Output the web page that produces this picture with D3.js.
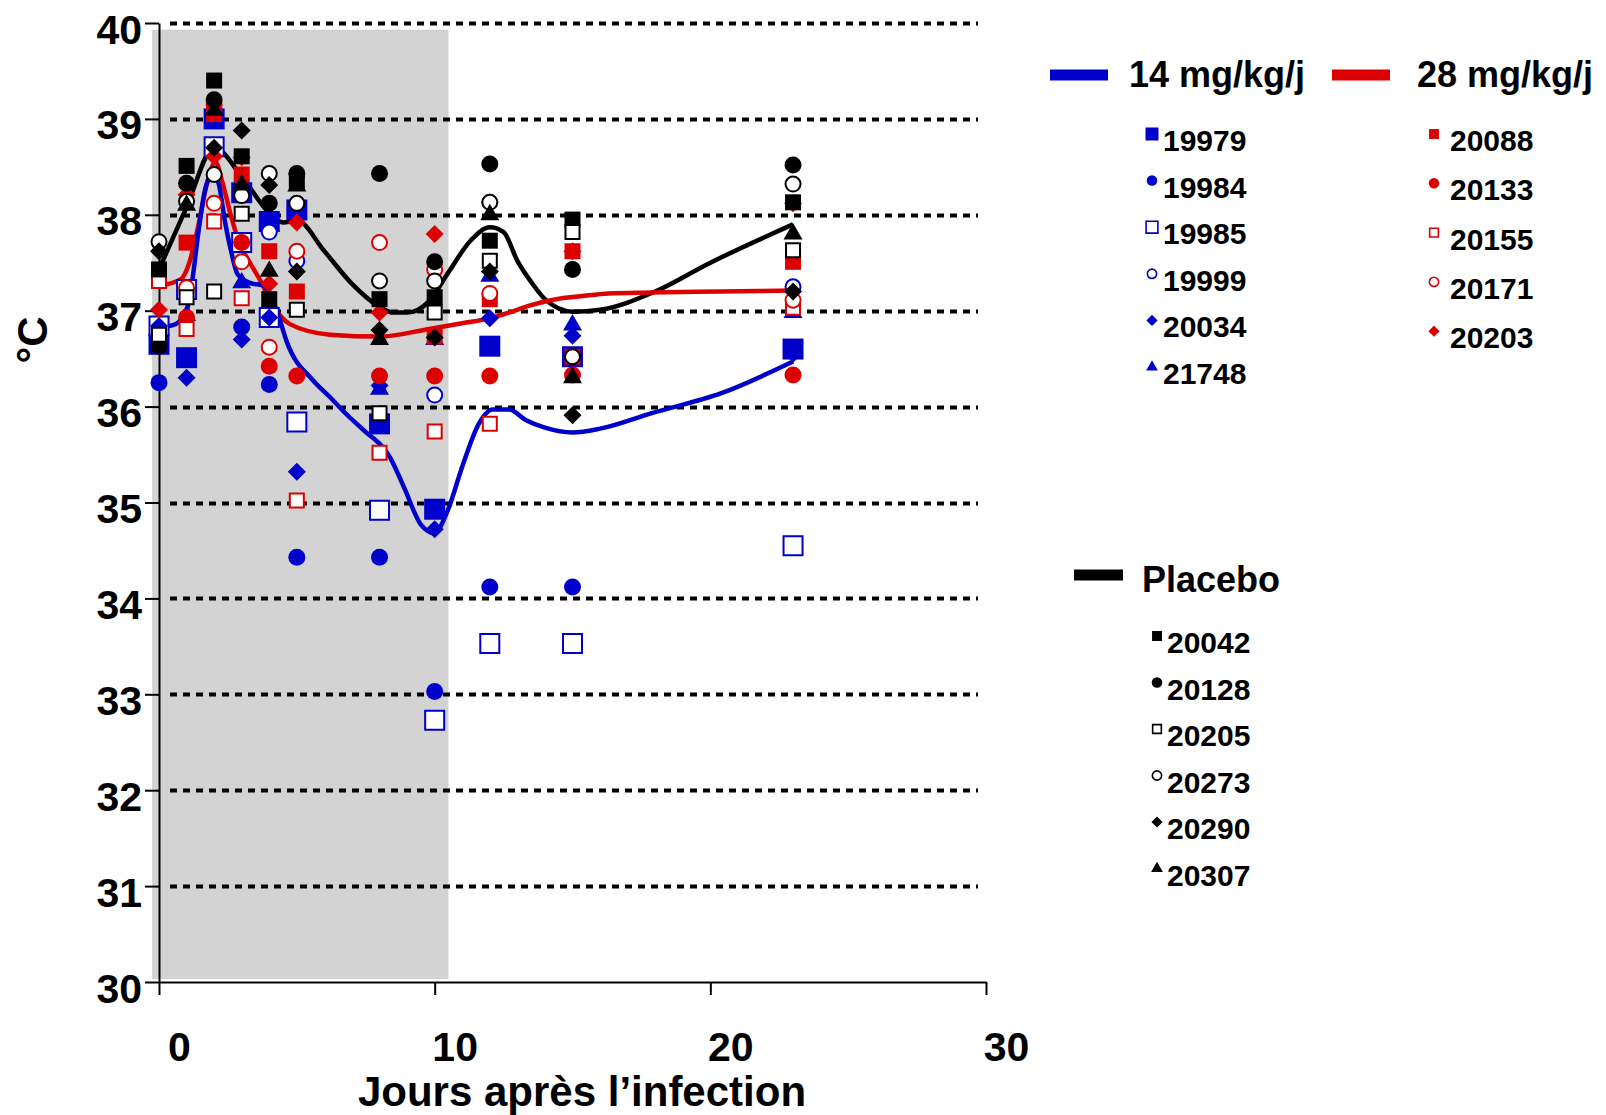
<!DOCTYPE html>
<html>
<head>
<meta charset="utf-8">
<script src="https://cdn.jsdelivr.net/npm/d3@7"></script>
<style>
  body { margin: 0; background: #fff; }
  text { font-family: "Liberation Sans", Arial, sans-serif; font-weight: bold; fill: #000; }
</style>
</head>
<body>
<svg id="chart" width="1606" height="1115"></svg>
<script>
// days of measurement
const days = [0, 1, 2, 3, 4, 5, 8, 10, 12, 15, 23];

// 14 mg/kg/j (null = hidden / not readable)
const m19979 = [36.65, 36.51, 39.0, 38.23, 37.93, 38.05, 35.82, 34.93, 36.63, 36.52, 36.6];
const m19984 = [36.25, null, null, 36.83, 36.23, 34.43, 34.43, 33.03, 34.12, 34.12, null];
const m19985 = [36.84, 37.22, 38.71, 37.71, 36.93, 35.84, 34.92, 32.73, 33.53, 33.53, 34.55];
const m19999 = [null, null, null, null, 37.82, 37.52, null, 36.12, null, null, 37.25];
const m20034 = [36.84, 36.3, null, 36.7, 36.93, 35.32, 36.22, 34.72, 36.92, 36.74, 36.55];
const m21748 = [null, 36.95, null, 37.29, null, null, 36.18, 36.7, 37.36, 36.85, 36.98];

// 28 mg/kg/j
const m20088 = [null, 37.71, 39.05, 38.42, 37.62, 37.2, null, 36.73, 37.12, 37.62, 37.51];
const m20133 = [null, 36.93, 39.15, 37.71, 36.42, 36.32, 36.32, 36.32, 36.32, 36.33, 36.33];
const m20155 = [37.31, 36.81, 37.93, 37.13, null, 35.02, 35.52, 35.74, 35.82, 36.52, 37.03];
const m20171 = [null, 37.24, 38.12, 37.51, 36.62, 37.62, 37.71, 37.43, 37.18, null, 37.11];
const m20203 = [37.01, 38.21, 38.61, 38.6, 37.28, 37.92, 36.98, 37.8, 38.13, 37.62, 38.12];

// Placebo
const m20042 = [37.43, 38.51, 39.4, 38.61, 37.12, 38.35, 37.12, 37.14, 37.73, 37.95, 38.13];
const m20128 = [36.63, 38.33, 39.2, null, 38.12, 38.43, 38.43, 37.51, 38.53, 37.43, 38.52];
const m20205 = [36.75, 37.14, 37.2, 38.01, null, 37.01, 35.93, 36.98, 37.52, 37.82, 37.63];
const m20273 = [37.72, 38.14, 38.42, 38.2, 38.43, 38.12, 37.31, 37.31, 38.13, 36.52, 38.32];
const m20290 = [37.62, null, 38.7, 38.88, 38.31, 37.41, 36.8, 36.72, 37.41, 35.91, 37.2];
const m20307 = [null, 38.1, 39.09, 38.31, 37.41, 38.3, 36.7, null, 38.0, 36.3, 37.8];

// smoothed group curves
const curve14Days = [0, 0.5, 0.95, 1.2, 1.43, 1.68, 1.95, 2.15, 2.4, 2.6, 2.85, 3.3, 3.8, 4.33, 4.63, 5.6, 6.2, 6.8, 7.4, 8.4, 8.9, 9.5, 10, 10.45, 11.03, 11.6, 12.1, 12.7, 13.3, 14, 15, 16, 17.85, 20.4, 23];
const curve14Vals = [36.83, 36.85, 36.95, 37.3, 37.82, 38.27, 38.42, 38.34, 37.92, 37.64, 37.38, 37.29, 37.26, 36.95, 36.68, 36.27, 36.1, 35.92, 35.76, 35.46, 35.15, 34.77, 34.68, 34.9, 35.4, 35.82, 35.97, 35.97, 35.86, 35.78, 35.73, 35.77, 35.93, 36.14, 36.47];
const curve28Days = [0, 0.8, 1.1, 1.45, 1.75, 2.05, 2.3, 2.6, 2.95, 3.3, 3.7, 4.1, 4.75, 6.2, 8, 9.8, 11, 12, 12.7, 13.4, 14.4, 15.3, 16.3, 17.8, 20.4, 23];
const curve28Vals = [37.26, 37.33, 37.5, 37.92, 38.34, 38.55, 38.34, 38.0, 37.68, 37.5, 37.3, 37.07, 36.86, 36.75, 36.73, 36.81, 36.87, 36.92, 36.98, 37.05, 37.12, 37.15, 37.18, 37.19, 37.2, 37.21];
const curvePlaDays = [0, 1, 2, 3, 4, 4.5, 5, 6, 7, 8, 8.5, 9, 9.8, 10.5, 11.3, 12, 12.5, 13, 13.5, 14, 15, 16, 18, 20, 23];
const curvePlaVals = [37.43, 38.08, 38.7, 38.4, 38.02, 37.92, 37.94, 37.62, 37.28, 37.04, 36.98, 36.98, 37.1, 37.4, 37.73, 37.87, 37.82, 37.52, 37.3, 37.12, 36.99, 37.01, 37.2, 37.5, 37.9];

// treatment period shading
const shadeDays = [-0.25, 10.5];
const shadeTemps = [30.03, 39.93];

const xTicks = [0, 10, 20, 30];
const yTicks = [30, 31, 32, 33, 34, 35, 36, 37, 38, 39, 40];
const gridTemps = [31, 32, 33, 34, 35, 36, 37, 38, 39, 40];

const BLUE = "#0000cc", RED = "#dd0000", BLACK = "#000000";

const series = [
  { id: "19979", values: m19979, color: BLUE, shape: "square", open: false, size: 21 },
  { id: "19984", values: m19984, color: BLUE, shape: "circle", open: false, size: 17 },
  { id: "19985", values: m19985, color: BLUE, shape: "square", open: true, size: 19 },
  { id: "19999", values: m19999, color: BLUE, shape: "circle", open: true, size: 15 },
  { id: "20034", values: m20034, color: BLUE, shape: "diamond", open: false, size: 18 },
  { id: "21748", values: m21748, color: BLUE, shape: "triangle", open: false, size: 19 },
  { id: "20088", values: m20088, color: RED, shape: "square", open: false, size: 16 },
  { id: "20133", values: m20133, color: RED, shape: "circle", open: false, size: 17 },
  { id: "20155", values: m20155, color: RED, shape: "square", open: true, size: 14 },
  { id: "20171", values: m20171, color: RED, shape: "circle", open: true, size: 15 },
  { id: "20203", values: m20203, color: RED, shape: "diamond", open: false, size: 18 },
  { id: "20042", values: m20042, color: BLACK, shape: "square", open: false, size: 16 },
  { id: "20128", values: m20128, color: BLACK, shape: "circle", open: false, size: 17 },
  { id: "20205", values: m20205, color: BLACK, shape: "square", open: true, size: 14 },
  { id: "20273", values: m20273, color: BLACK, shape: "circle", open: true, size: 15 },
  { id: "20290", values: m20290, color: BLACK, shape: "diamond", open: false, size: 18 },
  { id: "20307", values: m20307, color: BLACK, shape: "triangle", open: false, size: 19 }
];

const svg = d3.select("#chart");

const x = d3.scaleLinear().domain([0, 30]).range([159, 986]);
const y = d3.scaleLinear().domain([30, 40]).range([982, 23]);

function symbolPath(shape, size) {
  if (shape === "square") return d3.symbol(d3.symbolSquare, size * size)();
  if (shape === "circle") return d3.symbol(d3.symbolCircle, Math.PI * size * size / 4)();
  if (shape === "diamond") return d3.symbol(d3.symbolSquare, size * size / 2)();
  return d3.symbol(d3.symbolTriangle, Math.sqrt(3) / 4 * size * size)();
}

function drawMarker(g, s, cx, cy, scale) {
  const sz = s.size * scale;
  g.append("path")
    .attr("d", symbolPath(s.shape, sz))
    .attr("transform", `translate(${cx},${cy})` + (s.shape === "diamond" ? " rotate(45)" : ""))
    .attr("fill", s.open ? "#fff" : s.color)
    .attr("stroke", s.open ? s.color : "none")
    .attr("stroke-width", s.open ? 2 * Math.max(scale, 0.8) : 0);
}

// grey box = treatment period
svg.append("rect")
  .attr("x", x(shadeDays[0]))
  .attr("y", y(shadeTemps[1]))
  .attr("width", x(shadeDays[1]) - x(shadeDays[0]))
  .attr("height", y(shadeTemps[0]) - y(shadeTemps[1]))
  .attr("fill", "#d3d3d3");

// dotted gridlines
svg.append("g")
  .selectAll("line")
  .data(gridTemps)
  .enter().append("line")
  .attr("x1", x(0) + 11).attr("x2", 978)
  .attr("y1", d => Math.round(y(d)) + 0.5).attr("y2", d => Math.round(y(d)) + 0.5)
  .attr("stroke", "#000")
  .attr("stroke-width", 4)
  .attr("stroke-dasharray", "7,6");

// axes
const xAxis = svg.append("g")
  .attr("transform", `translate(0,${y(30)})`)
  .call(d3.axisBottom(x).tickValues(xTicks).tickSize(13).tickSizeOuter(0));
xAxis.selectAll("text")
  .attr("y", 79).attr("dy", 0).attr("dx", 20)
  .style("font-size", "41px");

const yAxis = svg.append("g")
  .attr("transform", `translate(${x(0)},0)`)
  .call(d3.axisLeft(y).tickValues(yTicks).tickSize(14).tickPadding(3).tickSizeOuter(0));
yAxis.selectAll("text")
  .attr("dy", "0.49em")
  .style("font-size", "41px");

svg.selectAll(".domain, .tick line").attr("stroke", "#000").attr("stroke-width", 2);
svg.selectAll(".tick text").attr("font-family", null).attr("fill", "#000");

// group curves
const line = d3.line()
  .x(d => x(d[0]))
  .y(d => y(d[1]))
  .curve(d3.curveMonotoneX);

const curves = [
  { days: curvePlaDays, vals: curvePlaVals, color: BLACK },
  { days: curve28Days, vals: curve28Vals, color: RED },
  { days: curve14Days, vals: curve14Vals, color: BLUE }
];
curves.forEach(c => {
  svg.append("path")
    .datum(c.days.map((d, i) => [d, c.vals[i]]))
    .attr("d", line)
    .attr("fill", "none")
    .attr("stroke", c.color)
    .attr("stroke-width", 4.5)
    .attr("stroke-linejoin", "round");
});

// individual animals
const pts = svg.append("g").attr("class", "points");
series.forEach(s => {
  const g = pts.append("g");
  s.values.forEach((v, i) => {
    if (v === null) return;
    drawMarker(g, s, x(days[i]), y(v), 1);
  });
});

// axis titles
svg.append("text")
  .attr("x", 582).attr("y", 1106)
  .attr("text-anchor", "middle")
  .style("font-size", "42px")
  .text("Jours après l’infection");

svg.append("text")
  .attr("transform", "translate(47,340) rotate(-90)")
  .attr("text-anchor", "middle")
  .style("font-size", "42px")
  .text("°C");

// legends
const legends = [
  { title: "14 mg/kg/j", color: BLUE, sw: [1050, 1108, 75], tx: 1129, ty: 87,
    ids: ["19979", "19984", "19985", "19999", "20034", "21748"], mx: 1152, ix: 1163, iy: 140, step: 46.6 },
  { title: "28 mg/kg/j", color: RED, sw: [1332, 1390, 75], tx: 1417, ty: 87,
    ids: ["20088", "20133", "20155", "20171", "20203"], mx: 1434, ix: 1450, iy: 140, step: 49.3 },
  { title: "Placebo", color: BLACK, sw: [1074, 1123, 575], tx: 1142, ty: 592,
    ids: ["20042", "20128", "20205", "20273", "20290", "20307"], mx: 1157, ix: 1167, iy: 642, step: 46.5 }
];

legends.forEach(L => {
  const g = svg.append("g");
  g.append("line")
    .attr("x1", L.sw[0]).attr("x2", L.sw[1])
    .attr("y1", L.sw[2]).attr("y2", L.sw[2])
    .attr("stroke", L.color).attr("stroke-width", 11);
  g.append("text")
    .attr("x", L.tx).attr("y", L.ty)
    .style("font-size", "36px")
    .text(L.title);
  L.ids.forEach((id, i) => {
    const s = series.find(d => d.id === id);
    const cy = L.iy + i * L.step;
    drawMarker(g, s, L.mx, cy - 6, 0.62);
    g.append("text")
      .attr("x", L.ix).attr("y", cy + 11)
      .style("font-size", "30px")
      .text(id);
  });
});
</script>
</body>
</html>
